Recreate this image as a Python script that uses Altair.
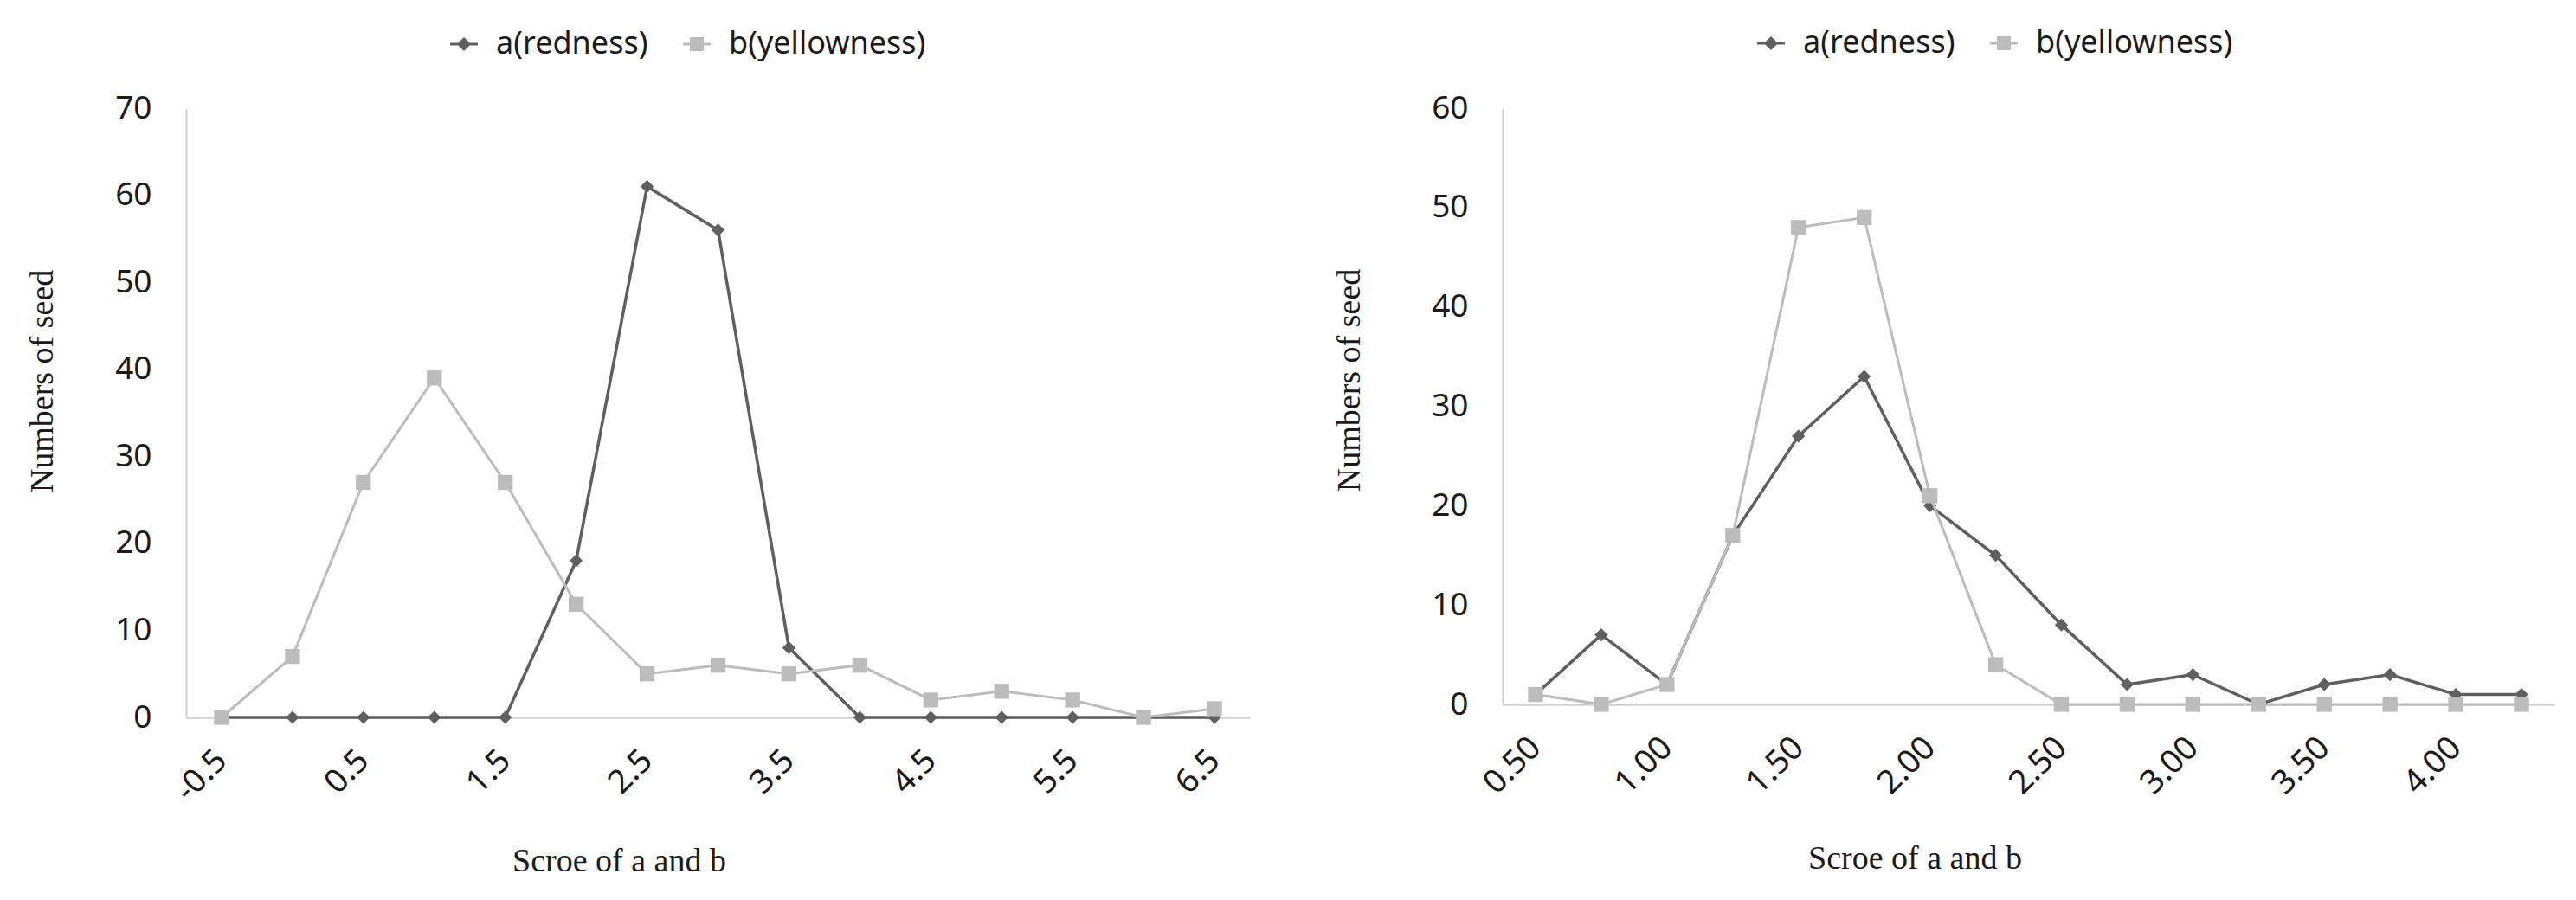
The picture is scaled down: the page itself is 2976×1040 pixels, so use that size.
import altair as alt
import pandas as pd

# ---------------- data ----------------
left_x = ["-0.5", "0", "0.5", "1", "1.5", "2", "2.5", "3", "3.5", "4", "4.5", "5", "5.5", "6", "6.5"]
left_a = [0, 0, 0, 0, 0, 18, 61, 56, 8, 0, 0, 0, 0, 0, 0]
left_b = [0, 7, 27, 39, 27, 13, 5, 6, 5, 6, 2, 3, 2, 0, 1]
left_labels = ["-0.5", "0.5", "1.5", "2.5", "3.5", "4.5", "5.5", "6.5"]
left_yticks = [0, 10, 20, 30, 40, 50, 60, 70]

right_x = ["0.50", "0.75", "1.00", "1.25", "1.50", "1.75", "2.00", "2.25",
           "2.50", "2.75", "3.00", "3.25", "3.50", "3.75", "4.00", "4.25"]
right_a = [1, 7, 2, 17, 27, 33, 20, 15, 8, 2, 3, 0, 2, 3, 1, 1]
right_b = [1, 0, 2, 17, 48, 49, 21, 4, 0, 0, 0, 0, 0, 0, 0, 0]
right_labels = ["0.50", "1.00", "1.50", "2.00", "2.50", "3.00", "3.50", "4.00"]
right_yticks = [0, 10, 20, 30, 40, 50, 60]

series_names = ["a(redness)", "b(yellowness)"]
series_colors = ["#5f5f5f", "#bcbcbc"]

x_title = "Scroe of a and b"
y_title = "Numbers of seed"

# legend symbols: short line with marker in the middle
legend_paths = [
    "M-1.6,0H1.6M0,-0.6L0.6,0L0,0.6L-0.6,0Z",
    "M-1.6,0H1.6M-0.65,-0.65H0.65V0.65H-0.65Z",
]

SANS = "Noto Sans"
SERIF = "Liberation Serif"
TXT = "#1a1a1a"
AXIS_COLOR = "#d0d0d0"


def panel(xcats, a_vals, b_vals, xlabels, yticks, w, h,
          legend_x, legend_y, ytx, yty, xtx, xty):
    n = len(xcats)
    df = pd.DataFrame({
        "score": xcats + xcats,
        "count": a_vals + b_vals,
        "series": [series_names[0]] * n + [series_names[1]] * n,
        "idx": list(range(n)) + list(range(n)),
    })
    base = alt.Chart(df)
    x = alt.X(
        "score:N", sort=xcats,
        scale=alt.Scale(type="point", domain=xcats, padding=0.5),
        axis=alt.Axis(
            values=xlabels, labelAngle=-45, labelAlign="right", labelBaseline="middle",
            labelFont=SANS, labelFontSize=38, labelColor=TXT, labelPadding=44,
            ticks=False, tickSize=0, grid=False,
            domainColor=AXIS_COLOR, domainWidth=2.5,
            title=x_title, titleFont=SERIF, titleFontSize=38, titleFontWeight="normal",
            titleColor=TXT, titleX=xtx, titleY=xty, titleAlign="center",
            titleBaseline="middle", labelOverlap=False,
        ),
    )
    y = alt.Y(
        "count:Q",
        scale=alt.Scale(domain=[yticks[0], yticks[-1]], nice=False, zero=True),
        axis=alt.Axis(
            values=yticks, labelFont=SANS, labelFontSize=37, labelColor=TXT,
            labelPadding=40, ticks=False, tickSize=0, grid=False,
            domainColor=AXIS_COLOR, domainWidth=2,
            title=y_title, titleFont=SERIF, titleFontSize=38, titleFontWeight="normal",
            titleColor=TXT, titleX=ytx, titleY=yty, titleAlign="center",
            titleBaseline="middle", titleAngle=270,
        ),
    )
    order = alt.Order("idx:Q")

    layers = []
    specs = [(series_names[0], series_colors[0], "diamond", 230, 3.5),
             (series_names[1], series_colors[1], "square", 300, 3.0)]
    for name, col, shape, size, sw in specs:
        sub = base.transform_filter(alt.datum.series == name)
        layers.append(sub.mark_line(strokeWidth=sw, color=col).encode(x=x, y=y, order=order))
        layers.append(sub.mark_point(shape=shape, filled=True, size=size, opacity=1,
                                     color=col, strokeWidth=0).encode(x=x, y=y))

    leg = alt.Legend(
        orient="none", legendX=legend_x, legendY=legend_y, direction="horizontal",
        title=None, labelFont=SANS, labelFontSize=36, labelColor=TXT, labelLimit=0,
        symbolSize=400, symbolStrokeWidth=3, symbolOpacity=1,
        labelOffset=19, columnPadding=34, padding=0,
    )
    legend_layer = base.transform_filter("false").mark_point(filled=True, opacity=1).encode(
        x=x, y=y,
        color=alt.Color("series:N", scale=alt.Scale(domain=series_names, range=series_colors), legend=leg),
        stroke=alt.Stroke("series:N", scale=alt.Scale(domain=series_names, range=series_colors), legend=leg),
        shape=alt.Shape("series:N", scale=alt.Scale(domain=series_names, range=legend_paths), legend=leg),
    )
    layers.append(legend_layer)
    return alt.layer(*layers).properties(width=w, height=h)


left = panel(left_x, left_a, left_b, left_labels, left_yticks, 1229, 704,
             legend_x=303, legend_y=-92, ytx=-166, yty=315, xtx=500, xty=166)
right = panel(right_x, right_a, right_b, right_labels, right_yticks, 1215, 689,
              legend_x=292, legend_y=-93, ytx=-177, yty=314, xtx=476, xty=178)

chart = alt.hconcat(left, right, spacing=96).resolve_scale(
    color="independent", stroke="independent", shape="independent"
).resolve_legend(
    color="independent", stroke="independent", shape="independent"
).properties(
    padding={"left": 30, "top": 32, "right": 5, "bottom": 5},
    background="white",
).configure_view(stroke=None)

chart.save("out.html", embed_options={"renderer": "svg", "actions": False})
